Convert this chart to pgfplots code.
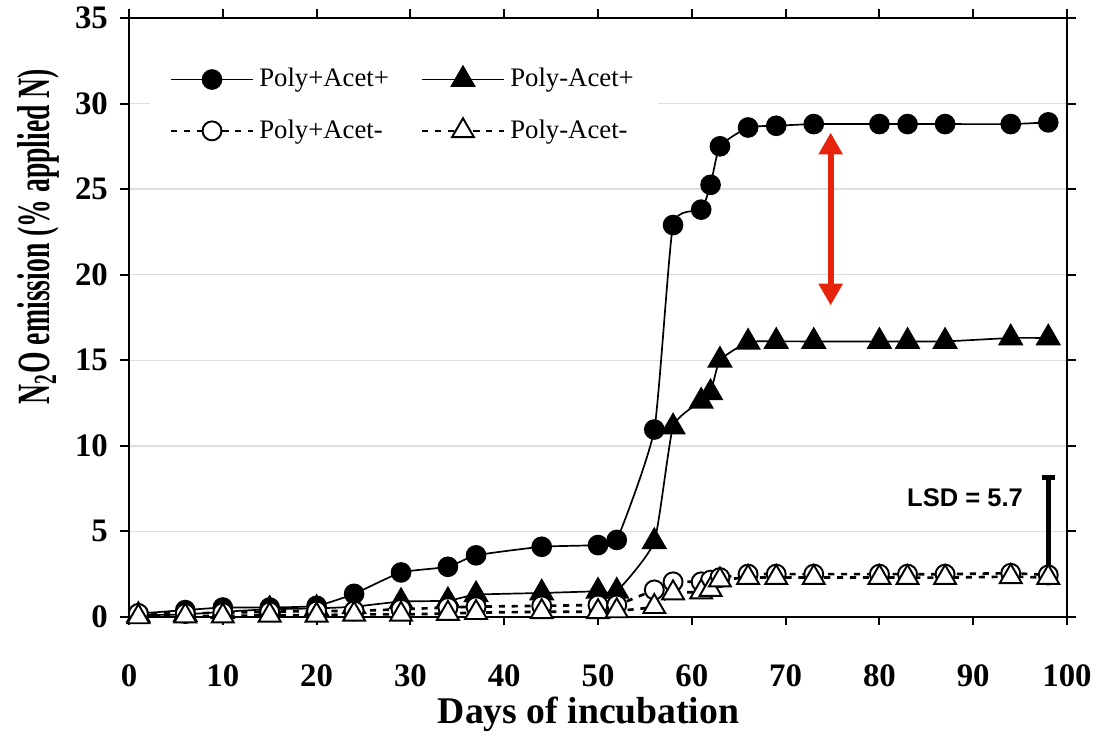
\documentclass[border=0pt]{standalone}
\usepackage{fontspec}
\setmainfont{Liberation Serif}
\newfontfamily\arialfont{Liberation Sans}
\newfontfamily\condserif[FakeStretch=0.6]{Liberation Serif}
\usepackage{pgfplots}
\pgfplotsset{compat=1.18}
\usetikzlibrary{arrows.meta}
\definecolor{arrowred}{RGB}{232,35,12}
\definecolor{gridgray}{RGB}{222,222,222}

\begin{document}
\begin{tikzpicture}
\begin{axis}[
  name=ax,
  scale only axis,
  width=13.57cm, height=8.665cm,
  xmin=0, xmax=100, ymin=0, ymax=35,
  xtick={0,10,...,100}, ytick={0,5,...,35},
  tick align=outside, major tick length=3.5pt,
  axis line style={line width=0.8pt},
  every tick/.style={black, line width=0.8pt},
  ymajorgrids, major grid style={gridgray, line width=0.6pt},
  /pgf/number format/assume math mode=true,
  tick label style={font=\bfseries\fontsize{13.5}{14}\selectfont},
  x tick label style={anchor=center, yshift=-20.6pt},
  y tick label style={anchor=east, inner sep=0pt, xshift=-5pt},
  xlabel={Days of incubation},
  ylabel={N\textsubscript{2}O emission (\% applied N)},
  every axis x label/.style={at={(axis description cs:0.49,-0.163)}, anchor=center, font=\bfseries\fontsize{15.5}{17}\selectfont},
  every axis y label/.style={at={(axis description cs:-0.097,0.635)}, rotate=90, anchor=center, font=\condserif\bfseries\fontsize{19}{20}\selectfont},
  clip=false,
  legend columns=2,
  legend cell align=left,
  legend style={at={(axis description cs:0.022,0.949)}, anchor=north west, draw=none, fill=white,
    font=\fontsize{11}{13}\selectfont, row sep=8pt,
    /tikz/every even column/.append style={column sep=11pt}, inner xsep=8pt, inner ysep=6pt},
  legend image code/.code={\draw[mark repeat=2,mark phase=2] plot coordinates {(0cm,0cm) (0.595cm,0cm) (1.19cm,0cm)};},
]
% Poly+Acet+
\addplot[black, line width=0.7pt, smooth, tension=0.3, mark=*, mark size=3.9pt, mark options={solid, fill=black}] coordinates {
(1,0.2) (6,0.4) (10,0.55) (15,0.55) (20,0.65) (24,1.35) (29,2.6) (34,2.93) (37,3.6) (44,4.1)
(50,4.2) (52,4.5) (56,10.95) (58,22.9) (61,23.8) (62,25.25) (63,27.5) (66,28.6) (69,28.7) (73,28.8)
(80,28.8) (83,28.8) (87,28.8) (94,28.8) (98,28.9)};
% Poly-Acet+
\addplot[black, line width=0.7pt, smooth, tension=0.3, mark=triangle*, mark size=5.4pt, mark options={solid, fill=black}] coordinates {
(1,0.1) (6,0.15) (10,0.3) (15,0.45) (20,0.5) (24,0.6) (29,0.9) (34,0.95) (37,1.3) (44,1.4)
(50,1.5) (52,1.5) (56,4.4) (58,11.1) (61,12.6) (62,13.1) (63,15.0) (66,16.05) (69,16.1) (73,16.1)
(80,16.1) (83,16.1) (87,16.1) (94,16.3) (98,16.3)};
% Poly+Acet-
\addplot[black, line width=1.1pt, dash pattern=on 2.5pt off 2.8pt, smooth, tension=0.3, mark=*, mark size=3.9pt, mark options={solid, fill=white, line width=0.8pt}] coordinates {
(1,0.2) (6,0.2) (10,0.25) (15,0.3) (20,0.35) (24,0.35) (29,0.45) (34,0.55) (37,0.6) (44,0.65)
(50,0.7) (52,0.7) (56,1.58) (58,2.05) (61,2.05) (62,2.15) (63,2.3) (66,2.5) (69,2.5) (73,2.5)
(80,2.5) (83,2.5) (87,2.5) (94,2.55) (98,2.45)};
% Poly-Acet-
\addplot[black, line width=1.1pt, dash pattern=on 2.5pt off 2.8pt, smooth, tension=0.3, mark=triangle*, mark size=5.2pt, mark options={solid, fill=white, line width=0.8pt}] coordinates {
(1,0.0) (6,0.05) (10,0.05) (15,0.1) (20,0.1) (24,0.15) (29,0.15) (34,0.2) (37,0.25) (44,0.3)
(50,0.3) (52,0.35) (56,0.6) (58,1.4) (61,1.45) (62,1.6) (63,2.15) (66,2.3) (69,2.3) (73,2.3)
(80,2.3) (83,2.3) (87,2.3) (94,2.35) (98,2.3)};
\legend{Poly+Acet+, Poly-Acet+, Poly+Acet-, Poly-Acet-}
% LSD bar
\addplot[forget plot, black, line width=2pt, no marks] coordinates {(98,2.45) (98,8.15)};
\addplot[forget plot, black, line width=2pt, no marks] coordinates {(97.3,8.15) (98.7,8.15)};
\node[anchor=east, font=\arialfont\bfseries\fontsize{10.5}{12}\selectfont] at (axis cs:96.2,6.95) {LSD = 5.7};
\draw[arrowred, line width=2.5pt, {Triangle[width=9.5pt,length=9pt]}-{Triangle[width=9.5pt,length=9pt]}] (axis cs:74.8,28.3) -- (axis cs:74.8,18.2);
\end{axis}
\path[use as bounding box] ([shift={(-1.866cm,-1.635cm)}]ax.south west) rectangle ([shift={(0.564cm,0.260cm)}]ax.north east);
\end{tikzpicture}
\end{document}
